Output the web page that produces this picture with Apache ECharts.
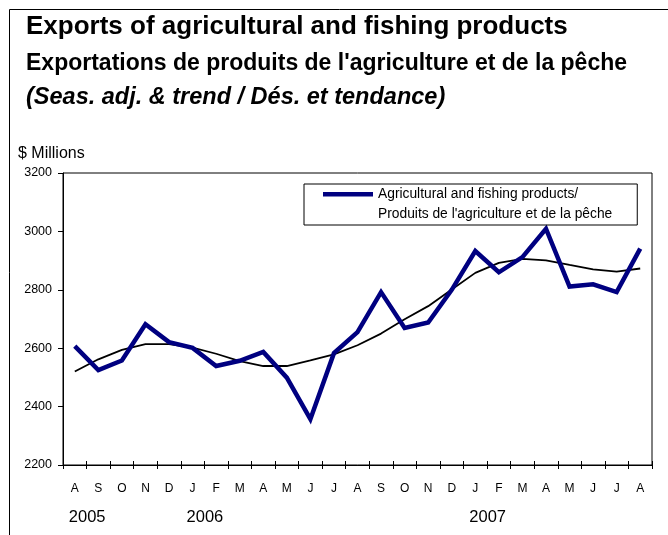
<!DOCTYPE html>
<html>
<head>
<meta charset="utf-8">
<script src="https://cdn.jsdelivr.net/npm/echarts@6/dist/echarts.min.js"></script>
<style>
html,body{margin:0;padding:0;background:#fff;}
#chart{width:668px;height:535px;}
</style>
</head>
<body>
<div id="chart"></div>
<script>
const months = ['A','S','O','N','D','J','F','M','A','M','J','J','A','S','O','N','D','J','F','M','A','M','J','J','A'];
const yearLabels = ['2005','','','','','2006','','','','','','','','','','','','2007','','','','','','',''];
const yTicks = { min: 2200, max: 3200, step: 200 };
const seriesName = "Agricultural and fishing products/ Produits de l'agriculture et de la pêche";
const seasAdj = [2607,2525,2558,2682,2621,2601,2539,2557,2587,2499,2357,2583,2655,2792,2669,2688,2800,2933,2860,2912,3009,2811,2819,2792,2941];
const trend = [2520,2562,2594,2614,2614,2602,2581,2556,2539,2539,2558,2579,2610,2650,2699,2744,2801,2858,2892,2906,2901,2885,2870,2862,2873];

const FONT = 'Liberation Sans, Arial, sans-serif';
const chart = echarts.init(document.getElementById('chart'), null, {renderer:'canvas'});
chart.setOption({
  animation: false,
  backgroundColor: '#fff',
  graphic: [{
    type: 'rect', silent: true, z: -10,
    shape: { x: 9.5, y: 9.5, width: 700, height: 600 },
    style: { fill: 'none', stroke: '#000', lineWidth: 1 }
  }],
  title: [
    { text: 'Exports of agricultural and fishing products', left: 26, top: 14,
      textStyle: { fontFamily: FONT, fontSize: 26, fontWeight: 'bold', color: '#000' }, padding: 0 },
    { text: "Exportations de produits de l'agriculture et de la pêche", left: 26, top: 52,
      textStyle: { fontFamily: FONT, fontSize: 23, fontWeight: 'bold', color: '#000' }, padding: 0 },
    { text: '(Seas. adj. & trend / Dés. et tendance)', left: 26, top: 86,
      textStyle: { fontFamily: FONT, fontSize: 23.5, fontWeight: 'bold', fontStyle: 'italic', color: '#000' }, padding: 0 },
    { text: '$ Millions', left: 18, top: 146,
      textStyle: { fontFamily: FONT, fontSize: 16, fontWeight: 'normal', color: '#000' }, padding: 0 }
  ],
  legend: {
    left: 304, top: 184, orient: 'vertical',
    padding: [0, 25, 1, 19],
    itemWidth: 50, itemHeight: 40,
    icon: 'path://M0,8L50,8L50,12.5L0,12.5Z M0,0L0.01,0L0.01,0.01Z M0,40L0.01,40L0.01,39.99Z',
    itemStyle: { borderWidth: 0 },
    borderColor: '#000', borderWidth: 1,
    data: [seriesName],
    formatter: n => n.replace('/ ', '/\n'),
    textStyle: { fontFamily: FONT, fontSize: 13.8, lineHeight: 20, color: '#000' }
  },
  grid: { left: 63, top: 173, right: 16, bottom: 70, show: true, borderColor: '#000', borderWidth: 1, backgroundColor: 'transparent' },
  xAxis: [
    { type: 'category', data: months, boundaryGap: true, position: 'bottom',
      axisLine: { show: true, lineStyle: { color: '#000', width: 1 } },
      axisTick: { show: true, inside: true, length: 4, interval: 0, lineStyle: { color: '#000' } },
      axisLabel: { interval: 0, fontFamily: FONT, fontSize: 12, color: '#000', margin: 18 },
      splitLine: { show: false } },
    { type: 'category', data: yearLabels, boundaryGap: true, position: 'bottom', offset: 0,
      axisLine: { show: true, lineStyle: { color: '#000', width: 1 } },
      axisTick: { show: true, inside: false, length: 4, interval: 0, lineStyle: { color: '#000' } },
      axisLabel: { interval: 0, fontFamily: FONT, fontSize: 16.5, color: '#000', margin: 44, align: 'left', padding: [0,0,0,-6] },
      splitLine: { show: false } }
  ],
  yAxis: {
    type: 'value', min: yTicks.min, max: yTicks.max, interval: yTicks.step,
    axisLine: { show: true, lineStyle: { color: '#000', width: 1 } },
    axisTick: { show: true, inside: false, length: 5, lineStyle: { color: '#000' } },
    axisLabel: { fontFamily: FONT, fontSize: 12.5, color: '#000', margin: 11, formatter: v => String(v) },
    splitLine: { show: false }
  },
  series: [
    { name: 'Trend', type: 'line', data: trend, xAxisIndex: 0, symbol: 'none', silent: true, z: 2,
      lineStyle: { color: '#000', width: 1.8 }, itemStyle: { color: '#000' } },
    { name: seriesName, type: 'line', data: seasAdj, xAxisIndex: 0, symbol: 'none', silent: true, z: 3,
      lineStyle: { color: '#000080', width: 4.5, join: 'miter' }, itemStyle: { color: '#000080' } }
  ]
});
</script>
</body>
</html>
